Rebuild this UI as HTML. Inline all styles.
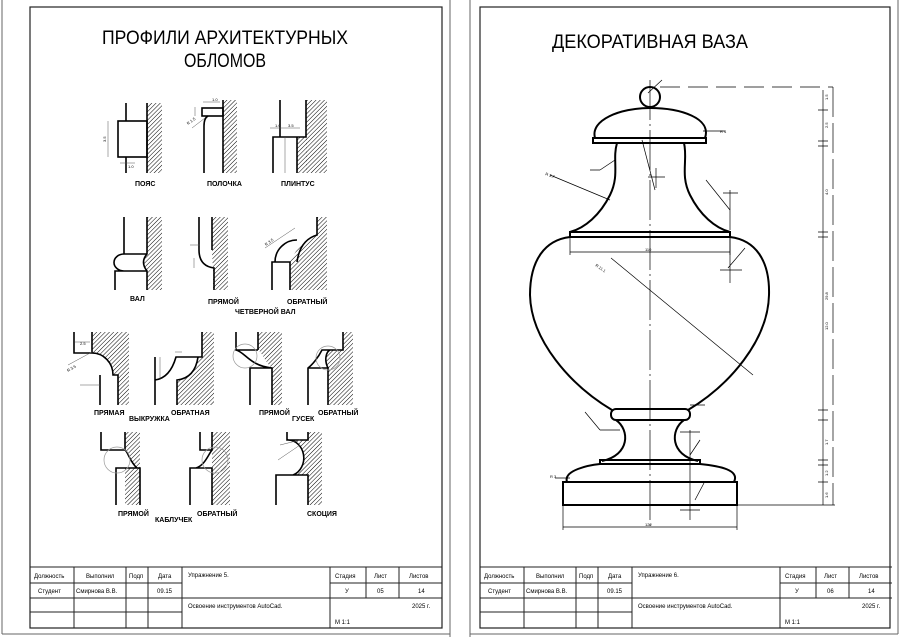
<!DOCTYPE html>
<html><head><meta charset="utf-8"><style>
html,body{margin:0;padding:0;background:#fff}
svg{display:block}
text{font-family:"Liberation Sans",sans-serif;fill:#000}
.l{font-size:7px;font-weight:bold}
.t{font-size:6px}
.d{font-size:4px;fill:#333}
</style></head><body>
<svg width="900" height="637" viewBox="0 0 900 637" xmlns="http://www.w3.org/2000/svg">
<defs>
<pattern id="h" patternUnits="userSpaceOnUse" width="3" height="3" patternTransform="rotate(45)">
<line x1="0" y1="0" x2="0" y2="3" stroke="#000" stroke-width="1"/>
</pattern>
</defs>
<rect width="900" height="637" fill="#fff"/>
<!-- page edges -->
<g stroke="#666" fill="none" stroke-width="1">
<line x1="2" y1="0" x2="2" y2="634"/><line x1="2" y1="634" x2="450" y2="634"/>
<line x1="450" y1="0" x2="450" y2="637"/><line x1="470" y1="0" x2="470" y2="637"/>
<line x1="470" y1="634" x2="898" y2="634"/><line x1="898" y1="0" x2="898" y2="634"/>
</g>
<!-- frames -->
<g stroke="#222" fill="none" stroke-width="1.2">
<rect x="30" y="7" width="412" height="621"/>
<rect x="480" y="7" width="410" height="621"/>
</g>
<!-- title blocks -->
<g stroke="#222" fill="none" stroke-width="1">
<g id="tb">
<line x1="30" y1="567" x2="442" y2="567"/>
<line x1="30" y1="583" x2="182" y2="583"/><line x1="330" y1="583" x2="442" y2="583"/>
<line x1="30" y1="598" x2="442" y2="598"/>
<line x1="30" y1="612" x2="182" y2="612"/>
<line x1="74" y1="567" x2="74" y2="628"/><line x1="126" y1="567" x2="126" y2="628"/>
<line x1="148" y1="567" x2="148" y2="628"/><line x1="182" y1="567" x2="182" y2="628"/>
<line x1="330" y1="567" x2="330" y2="628"/>
<line x1="366" y1="567" x2="366" y2="598"/><line x1="399" y1="567" x2="399" y2="598"/>
</g>
<use href="#tb" x="450"/>
</g>
<g class="t">
<text x="34" y="578">Должность</text><text x="86" y="578">Выполнил</text><text x="129" y="578">Подп</text><text x="158" y="578">Дата</text>
<text x="188" y="577">Упражнение 5.</text><text x="335" y="578">Стадия</text><text x="374" y="578">Лист</text><text x="409" y="578">Листов</text>
<text x="38" y="593">Студент</text><text x="76" y="593">Смирнова В.В.</text><text x="157" y="593">09.15</text>
<text x="345" y="593">У</text><text x="377" y="593">05</text><text x="418" y="593">14</text>
<text x="188" y="608">Освоение инструментов AutoCad.</text><text x="412" y="608">2025 г.</text>
<text x="335" y="624">М 1:1</text>
<text x="484" y="578">Должность</text><text x="536" y="578">Выполнил</text><text x="579" y="578">Подп</text><text x="608" y="578">Дата</text>
<text x="638" y="577">Упражнение 6.</text><text x="785" y="578">Стадия</text><text x="824" y="578">Лист</text><text x="859" y="578">Листов</text>
<text x="488" y="593">Студент</text><text x="526" y="593">Смирнова В.В.</text><text x="607" y="593">09.15</text>
<text x="795" y="593">У</text><text x="827" y="593">06</text><text x="868" y="593">14</text>
<text x="638" y="608">Освоение инструментов AutoCad.</text><text x="862" y="608">2025 г.</text>
<text x="785" y="624">М 1:1</text>
</g>
<!-- titles -->
<text x="225" y="44" font-size="19" text-anchor="middle" textLength="246" lengthAdjust="spacingAndGlyphs">ПРОФИЛИ АРХИТЕКТУРНЫХ</text>
<text x="225" y="67" font-size="19" text-anchor="middle" textLength="82" lengthAdjust="spacingAndGlyphs">ОБЛОМОВ</text>
<text x="650" y="48" font-size="19" text-anchor="middle" textLength="196" lengthAdjust="spacingAndGlyphs">ДЕКОРАТИВНАЯ ВАЗА</text>

<!-- PROFILES -->
<g fill="url(#h)" stroke="none">
<rect x="147" y="103" width="15" height="70"/>
<rect x="223" y="100" width="14" height="73"/>
<rect x="306" y="100" width="21" height="73"/><rect x="297" y="137" width="10" height="36"/>
<path d="M147,217 H162 V290 H147 V271 Q140,262 147,254 Z"/>
<path d="M212,217 H228 V290 H213 V268 Q212,255 212,250 Z"/>
<path d="M317,217 H327 V290 H290 V262 Q300,240 317,235 Z"/>
<path d="M92,332 H129 V405 H118 V375 H113 A21,22 0 0 0 92,353 Z"/>
<path d="M202,332 H214 V405 H177 V380 Q195,378 198,357 H202 Z"/>
<path d="M258,332 H282 V405 H272 V368 C265,362 262,352 258,350 Z"/>
<path d="M343,332 H353 V405 H328 V368 C324,360 326,352 330,350 H343 Z"/>
<path d="M125,432 H140 V505 H125 V468 H137 C130,462 128,452 125,450 Z"/>
<path d="M212,432 H230 V505 H212 V450 Z"/>
<path d="M308,432 H322 V505 H308 V475 H293 A16,18 0 0 0 287,440 H308 Z"/>
</g>
<g stroke="#000" fill="none" stroke-width="1.6">
<!-- пояс -->
<path d="M147,103 V173 M126,103 V121 M126,157 V173"/><rect x="118" y="121" width="29" height="36"/>
<!-- полочка -->
<path d="M223,100 V173"/><rect x="202" y="108" width="21" height="8"/><path d="M208,116 Q204,118 204,126 V173"/>
<!-- плинтус -->
<path d="M280,100 V137 M306,100 V137 H273 V173 M297,137 V173"/>
<!-- вал -->
<path d="M124,217 V254 H147 M115,290 V271 H147 M124,254 A10,8.5 0 0 0 124,271 M147,217 V254 Q140,262 147,271 V290"/>
<!-- прямой -->
<path d="M199,217 V250 Q199,266 214,268 V290 M212,217 V250"/>
<!-- обратный -->
<path d="M317,217 V235 Q300,240 297,262 M275,262 A22,22 0 0 1 297,240 M272,290 V262 H290 V290"/>
<!-- выкружка прямая -->
<path d="M74,332 V353 H92 A21,22 0 0 1 113,375 H118 V405 M100,375 V405 M92,332 V353"/>
<!-- выкружка обратная -->
<path d="M155,405 V380 Q170,378 176,357 H202 V332 M155,380 V357 M177,405 V380 Q195,378 198,357"/>
<!-- гусек прямой -->
<path d="M236,332 V350 H258 M236,350 C245,352 250,366 272,368 M250,405 V368 H272 V405 M258,332 V350"/>
<!-- гусек обратный -->
<path d="M343,332 V350 H322 C318,358 312,365 308,368 V405 M308,368 H328 V405 M330,350 C326,352 324,360 328,368"/>
<!-- каблучок прямой -->
<path d="M101,432 V450 H125 C128,452 130,462 137,468 H116 V505 M125,432 V450 M137,468 H140 V505"/>
<!-- каблучок обратный -->
<path d="M200,432 V450 H212 V432 M212,450 C208,455 205,465 196,468 H212 V505 M190,505 V468 H196"/>
<!-- скоция -->
<path d="M287,432 V440 H308 V432 M287,440 A16,18 0 0 1 293,475 M276,505 V475 H308 V505"/>
</g>
<g stroke="#999" fill="none" stroke-width="0.7">
<circle cx="245" cy="356" r="12"/><circle cx="328" cy="358" r="12"/>
<circle cx="117" cy="460" r="13"/><circle cx="215" cy="460" r="13"/>
</g>
<g stroke="#555" fill="none" stroke-width="0.5">
<path d="M108,121 V157 M120,163 H135 M195,107 V116 M203,102 H220 M192,128 L205,118 M270,128 H300 M285,137 V173"/>
<path d="M190,245 H200 M194,258 V268 M265,248 L295,228 M75,342 H90 M68,365 L92,352 M80,385 H100 M160,357 V380 M175,352 H182"/>
<path d="M280,445 L300,440 M278,460 L300,445"/>
</g>
<g class="d">
<text x="106" y="142" transform="rotate(-90 106 142)">3.5</text><text x="128" y="168">1.0</text>
<text x="212" y="101">1.0</text><text x="275" y="127">1.0</text><text x="288" y="127">3.5</text>
<text x="188" y="125" transform="rotate(-35 188 125)">R 1.5</text><text x="266" y="246" transform="rotate(-35 266 246)">R 3.5</text>
<text x="80" y="345">2.5</text><text x="68" y="372" transform="rotate(-30 68 372)">R 3.5</text>
</g>
<g class="l">
<text x="135" y="186">ПОЯС</text><text x="207" y="186">ПОЛОЧКА</text><text x="281" y="186">ПЛИНТУС</text>
<text x="130" y="301">ВАЛ</text><text x="208" y="304">ПРЯМОЙ</text><text x="287" y="304">ОБРАТНЫЙ</text>
<text x="235" y="314">ЧЕТВЕРНОЙ ВАЛ</text>
<text x="94" y="415">ПРЯМАЯ</text><text x="129" y="421">ВЫКРУЖКА</text><text x="171" y="415">ОБРАТНАЯ</text>
<text x="259" y="415">ПРЯМОЙ</text><text x="292" y="421">ГУСЕК</text><text x="318" y="415">ОБРАТНЫЙ</text>
<text x="118" y="516">ПРЯМОЙ</text><text x="155" y="522">КАБЛУЧЕК</text><text x="197" y="516">ОБРАТНЫЙ</text><text x="307" y="516">СКОЦИЯ</text>
</g>

<!-- VASE -->
<g stroke="#000" fill="none" stroke-width="0.7">
<line x1="650" y1="80" x2="650" y2="530" stroke-dasharray="40,4,2,4"/>
<line x1="660" y1="87" x2="833" y2="87" stroke-dasharray="20,8"/>
<line x1="833" y1="87" x2="833" y2="505" stroke-dasharray="30,6"/>
<line x1="823" y1="90" x2="823" y2="505"/>
<line x1="737" y1="505" x2="835" y2="505"/>
<path d="M570,237 V255 M730,237 V255 M570,252 H730"/>
<path d="M563,505 V530 M737,505 V530 M563,527 H737"/>
<path d="M610,200 L550,175 M706,180 L730,210 M642,140 L655,190 M615,160 L600,170 M600,170 H590 M703,131 H725"/>
<path d="M611,258 L753,375 M728,268 L745,248 M730,236 V283 M720,270 H742 M648,177 H665 M656,168 V188"/>
<path d="M730,190 V230 M723,193 H738"/>
<path d="M690,430 V520 M680,510 H700 M680,432 H700 M600,430 H620 M600,430 L585,412 M700,440 L690,455 M704,483 L695,500"/>
<path d="M570,478 L555,478 M690,405 L705,405"/>
<path d="M648,93 L662,80"/>
<path d="M818,110 H828 M818,141 H828 M818,146 H828 M818,232 H828 M818,237 H828 M818,410 H828 M818,420 H828 M818,460 H828 M818,465 H828 M818,482 H828"/>
</g>
<g stroke="#000" fill="none" stroke-width="2">
<circle cx="650" cy="97" r="10"/>
<path d="M595,138 C590,120 620,108 650,108 C680,108 712,118 705,138"/>
<rect x="593" y="138" width="113" height="5"/>
<path d="M617,143 C612,160 620,175 610,195 C600,215 585,228 570,232"/>
<path d="M684,143 C688,160 680,175 690,195 C700,215 715,228 730,232"/>
<rect x="570" y="232" width="160" height="5"/>
<path d="M570,237 C545,240 530,260 530,295 C531,340 570,385 612,410"/>
<path d="M730,237 C755,240 770,260 769,295 C768,340 730,385 688,410"/>
<rect x="611" y="409" width="79" height="11" rx="5"/>
<path d="M616,420 C630,430 630,455 602,461"/>
<path d="M684,420 C670,430 670,455 698,461"/>
<rect x="600" y="460" width="100" height="4"/>
<path d="M567,482 C563,470 590,465 600,464 M700,464 C720,466 740,470 734,482"/>
<rect x="563" y="482" width="174" height="23"/>
</g>
<g class="d">
<text x="645" y="251">110</text><text x="645" y="526">122</text>
<text x="720" y="133">R 4</text><text x="545" y="175" transform="rotate(20 545 175)">R 3.7</text>
<text x="595" y="266" transform="rotate(35 595 266)">R 11.1</text>
<text x="828" y="100" transform="rotate(-90 828 100)">1.5</text><text x="828" y="128" transform="rotate(-90 828 128)">2.5</text>
<text x="828" y="195" transform="rotate(-90 828 195)">4.0</text><text x="828" y="300" transform="rotate(-90 828 300)">29.8</text>
<text x="828" y="330" transform="rotate(-90 828 330)">12.0</text><text x="828" y="445" transform="rotate(-90 828 445)">1.7</text>
<text x="828" y="476" transform="rotate(-90 828 476)">1.2</text><text x="828" y="498" transform="rotate(-90 828 498)">1.6</text>
<text x="550" y="478">R 3</text>
</g>
</svg>
</body></html>
